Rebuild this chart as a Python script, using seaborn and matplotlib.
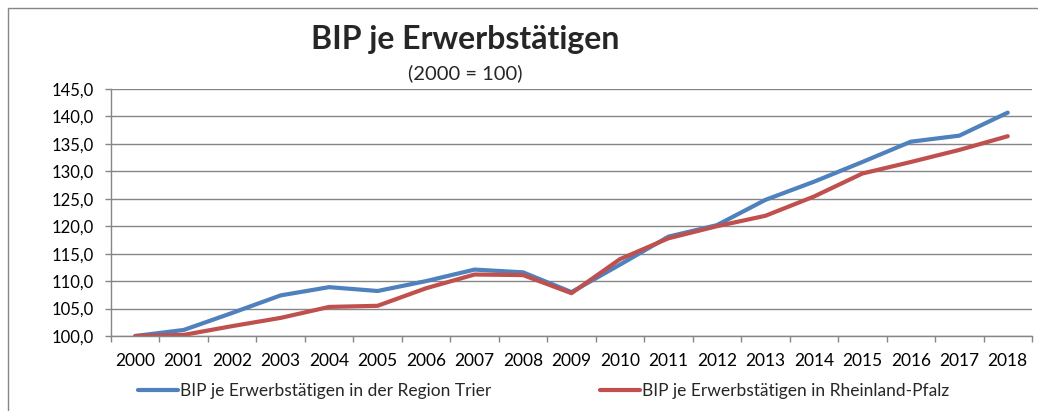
import numpy as np
import pandas as pd
import matplotlib
matplotlib.use("Agg")
import matplotlib.pyplot as plt
import seaborn as sns
from matplotlib.patches import Rectangle
from matplotlib.ticker import FixedLocator, FuncFormatter

# ---------------------------------
# Data
# ---------------------------------

years = [str(y) for y in range(2000, 2019)]

trier = [100.0, 101.1, 104.2, 107.4, 108.9, 108.2, 110.0, 112.1, 111.6, 108.0,
         113.0, 118.1, 120.2, 124.8, 128.1, 131.7, 135.4, 136.5, 140.7]

rlp = [100.0, 100.2, 101.8, 103.3, 105.3, 105.5, 108.7, 111.2, 111.1, 107.8,
       114.0, 117.8, 120.0, 121.9, 125.4, 129.6, 131.7, 133.9, 136.4]

series_names = [
    "BIP je Erwerbstätigen in der Region Trier",
    "BIP je Erwerbstätigen in Rheinland-Pfalz",
]

y_ticks = [100, 105, 110, 115, 120, 125, 130, 135, 140, 145]

# ---------------------------------
# Style
# ---------------------------------

sns.set_style("white")
plt.rcParams["font.family"] = ["Lato", "DejaVu Sans"]

BLUE = "#4F81BD"
RED = "#C0504D"
GRID = "#868686"

df = pd.DataFrame({
    "pos": list(range(len(years))) * 2,
    "value": trier + rlp,
    "series": [series_names[0]] * len(years) + [series_names[1]] * len(years),
})

fig = plt.figure(figsize=(10.38, 4.11), dpi=100)
ax = fig.add_axes([111 / 1038, 1 - 336 / 411, 921 / 1038, 247 / 411])

sns.lineplot(
    data=df,
    x="pos",
    y="value",
    hue="series",
    palette=[BLUE, RED],
    linewidth=3,
    ax=ax,
    legend=False,
)

ax.set_xlim(-0.5, len(years) - 0.5)
ax.set_ylim(100, 145)

ax.set_yticks(y_ticks)
ax.yaxis.set_major_formatter(FuncFormatter(lambda v, p: f"{v:.1f}".replace(".", ",")))
ax.set_xticks(range(len(years)))
ax.set_xticklabels(years)
ax.xaxis.set_minor_locator(FixedLocator(np.arange(-0.5, len(years), 1.0)))

ax.grid(axis="y", color=GRID, linewidth=1.0)
ax.set_axisbelow(True)
for side in ["top", "right"]:
    ax.spines[side].set_visible(False)
for side in ["left", "bottom"]:
    ax.spines[side].set_color(GRID)
    ax.spines[side].set_linewidth(1.0)

ax.tick_params(axis="y", which="major", left=True, length=4.5, width=1.0,
               color=GRID, pad=8, labelsize=12, labelcolor="black")
ax.tick_params(axis="x", which="major", bottom=False, length=0, pad=12,
               labelsize=12.5, labelcolor="black")
ax.tick_params(axis="x", which="minor", bottom=True, length=4.5, width=1.0,
               color=GRID)
ax.set_xlabel("")
ax.set_ylabel("")

# Titles
fig.text(465 / 1038, 1 - 39 / 411, "BIP je Erwerbstätigen", ha="center",
         va="center", fontsize=23, fontweight="bold")
fig.text(465 / 1038, 1 - 73 / 411, "(2000 = 100)", ha="center",
         va="center", fontsize=14.5)

# Legend
handles = [
    plt.Line2D([], [], color=BLUE, linewidth=3),
    plt.Line2D([], [], color=RED, linewidth=3),
]
fig.legend(
    handles,
    series_names,
    loc="center left",
    bbox_to_anchor=(138 / 1038, 1 - 391 / 411),
    ncol=2,
    frameon=False,
    fontsize=12.5,
    handlelength=2.3,
    handletextpad=0.1,
    columnspacing=6.3,
    borderpad=0,
    borderaxespad=0,
)

# Chart frame
fig.patches.append(Rectangle(
    (8 / 1038, -0.1), 1.2, 1 - 8 / 411 + 0.1,
    transform=fig.transFigure, fill=False, edgecolor=GRID, linewidth=1.0,
))

fig.savefig("out.png", dpi=100)
